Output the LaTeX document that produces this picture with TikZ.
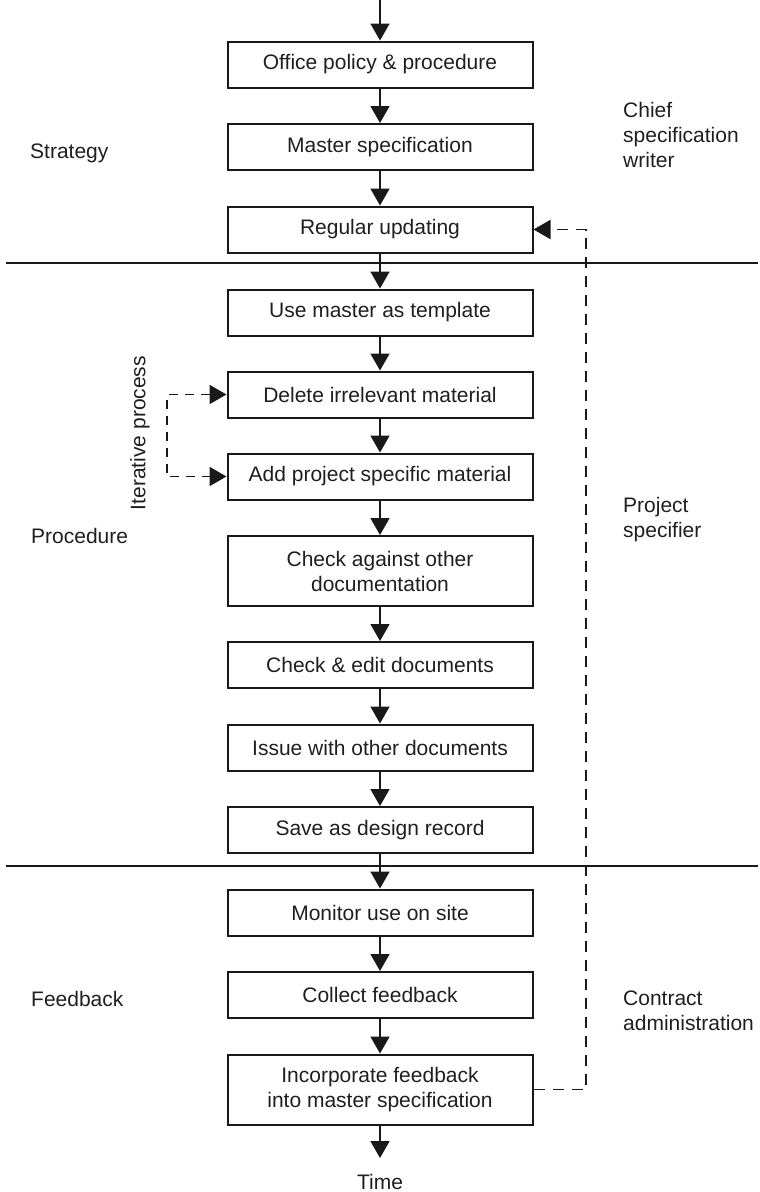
\documentclass[tikz,border=0pt]{standalone}
\usepackage{fontspec}
\setmainfont{Liberation Sans}
\usetikzlibrary{arrows.meta}
\begin{document}
\begin{tikzpicture}[x=1pt,y=-1pt,
  every node/.style={font=\fontsize{21}{25}\selectfont, text=black!88},
  stepbox/.style={draw=black!90, line width=2pt, minimum width=305pt,
    minimum height=46pt, inner sep=0pt, align=center},
  tallbox/.style={stepbox, minimum height=70pt},
  tip/.style={-{Triangle[width=19pt,length=17pt]}},
  flow/.style={line width=1.9pt, draw=black!90, tip},
  loopline/.style={line width=1.9pt, draw=black!90, dash pattern=on 9pt off 7pt},
  rule/.style={line width=1.9pt, draw=black!90},
  sidelabel/.style={anchor=base west, inner sep=0pt},
  rolelabel/.style={anchor=north west, align=left, inner sep=0pt}]

\useasboundingbox (0,0) rectangle (760,1192);

% process steps
\node[stepbox] (off) at (380,64.5)  {Office policy \& procedure};
\node[stepbox] (mas) at (380,147)   {Master specification};
\node[stepbox] (reg) at (380,229.5) {Regular updating};
\node[stepbox] (use) at (380,312.5) {Use master as template};
\node[stepbox] (del) at (380,394.5) {Delete irrelevant material};
\node[stepbox] (add) at (380,476.5) {Add project specific material};
\node[tallbox] (chk) at (380,571)   {Check against other\\documentation};
\node[stepbox] (edt) at (380,665)   {Check \& edit documents};
\node[stepbox] (iss) at (380,747.5) {Issue with other documents};
\node[stepbox] (sav) at (380,830)   {Save as design record};
\node[stepbox] (mon) at (380,912.5) {Monitor use on site};
\node[stepbox] (col) at (380,995)   {Collect feedback};
\node[tallbox] (inc) at (380,1089.5) {Incorporate feedback\\into master specification};
\node[anchor=north, inner sep=0pt] (time) at (380,1174) {Time};

% phase labels (left)
\node[sidelabel] (strat) at (30,158)  {Strategy};
\node[sidelabel] (proc)  at (31,543)  {Procedure};
\node[sidelabel] (feed)  at (31,1006) {Feedback};

% responsibility labels (right)
\node[rolelabel] (chief) at (623,102) {Chief\\specification\\writer};
\node[rolelabel] (proj)  at (623,497) {Project\\specifier};
\node[rolelabel] (cont)  at (623,991) {Contract\\administration};

% iteration note
\node[rotate=90, inner sep=0pt] (iter) at (140,433) {Iterative process};

% phase separators
\coordinate (r1a) at (6,263);   \coordinate (r1b) at (758,263);
\coordinate (r2a) at (6,866);   \coordinate (r2b) at (758,866);
\draw[rule] (r1a) -- (r1b);
\draw[rule] (r2a) -- (r2b);

% main flow
\coordinate (start) at (380,0);
\draw[flow] (start) -- (off);
\draw[flow] (off) -- (mas);
\draw[flow] (mas) -- (reg);
\draw[flow] (reg) -- (use);
\draw[flow] (use) -- (del);
\draw[flow] (del) -- (add);
\draw[flow] (add) -- (chk);
\draw[flow] (chk) -- (edt);
\draw[flow] (edt) -- (iss);
\draw[flow] (iss) -- (sav);
\draw[flow] (sav) -- (mon);
\draw[flow] (mon) -- (col);
\draw[flow] (col) -- (inc);
\draw[flow, shorten >=16pt] (inc) -- (time.north);

% iterative loop
\coordinate (itx) at (167,0);
\draw[loopline, {Triangle[width=19pt,length=17pt]}-{Triangle[width=19pt,length=17pt]}]
  (del.west) -- (del.west -| itx) -- (add.west -| itx) -- (add.west);

% feedback loop back to the master
\coordinate (fbx) at (586,0);
\draw[loopline, dash pattern=on 11pt off 8pt, tip]
  (inc.east) -- (inc.east -| fbx) -- (reg.east -| fbx) -- (reg.east);
\end{tikzpicture}
\end{document}
